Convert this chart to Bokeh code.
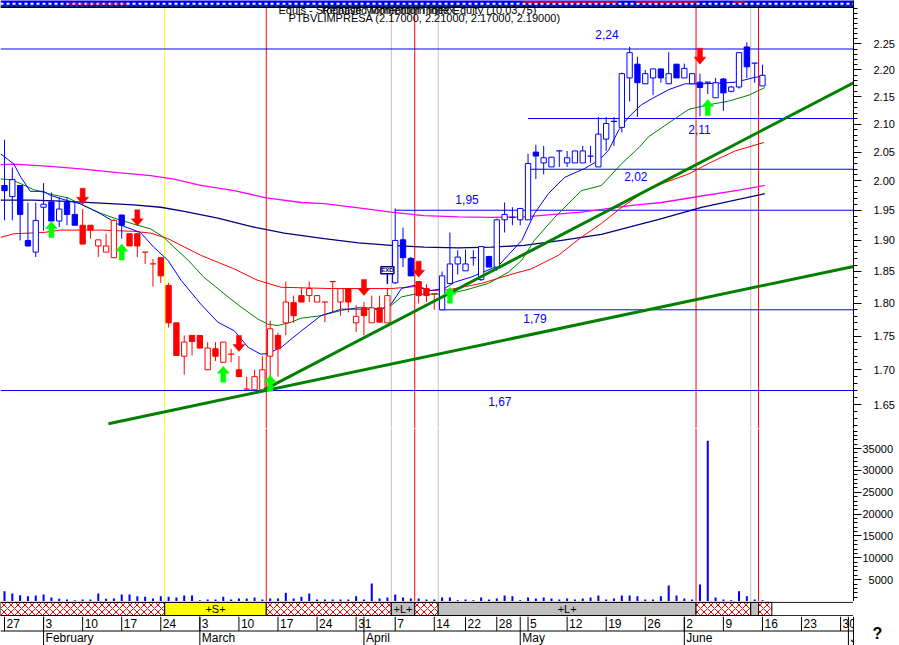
import math
from bokeh.plotting import figure
from bokeh.layouts import column
from bokeh.models import Range1d, Span, FixedTicker, PrintfTickFormatter, CustomJSTickFormatter
from bokeh.embed import file_html
from bokeh.resources import INLINE
from bokeh.core.properties import value

# ------------------------------------------------------------------ data
# trading-day index 0 = 27 Jan 2003 ... 97 = 16 Jun 2003
open_ = [1.992, 1.973, 1.992, 1.900, 1.881, 1.955, 1.964, 1.932, 1.963, 1.943,
         1.925, 1.925, 1.891, 1.881, 1.872, 1.942, 1.911, 1.911, 1.881, 1.862,
         1.872, 1.828, 1.770, 1.720, 1.751, 1.751, 1.700, 1.731, 1.711, 1.723,
         1.700, 1.672, 1.671, 1.671, 1.720, 1.751, 1.770, 1.801, 1.812, 1.812,
         1.802, 1.802, 1.834, 1.802, 1.823, 1.770, 1.793, 1.770, 1.793, 1.770,
         1.832, 1.901, 1.871, 1.834, 1.823, 1.815, 1.790, 1.831, 1.862, 1.851,
         1.872, 1.837, 1.874, 1.857, 1.934, 1.938, 1.934, 1.934, 2.050, 2.031,
         2.024, 2.052, 2.031, 2.031, 2.031, 2.043, 2.024, 2.073, 2.105, 2.094,
         2.185, 2.211, 2.174, 2.185, 2.202, 2.174, 2.211, 2.185, 2.174, 2.177,
         2.177, 2.148, 2.183, 2.160, 2.168, 2.244, 2.213, 2.170]
high = [2.072, 2.023, 1.992, 1.963, 1.963, 1.996, 1.980, 1.972, 1.972, 1.963,
        1.952, 1.925, 1.901, 1.911, 1.935, 1.942, 1.911, 1.911, 1.881, 1.870,
        1.872, 1.832, 1.770, 1.751, 1.751, 1.751, 1.741, 1.741, 1.741, 1.731,
        1.720, 1.690, 1.700, 1.720, 1.773, 1.755, 1.834, 1.812, 1.825, 1.834,
        1.812, 1.802, 1.834, 1.823, 1.823, 1.797, 1.802, 1.812, 1.812, 1.823,
        1.953, 1.921, 1.873, 1.834, 1.830, 1.815, 1.850, 1.913, 1.884, 1.885,
        1.884, 1.890, 1.875, 1.936, 1.963, 1.955, 1.953, 2.047, 2.063, 2.061,
        2.041, 2.052, 2.052, 2.052, 2.061, 2.061, 2.113, 2.113, 2.113, 2.195,
        2.244, 2.225, 2.200, 2.202, 2.202, 2.234, 2.211, 2.212, 2.193, 2.193,
        2.177, 2.185, 2.185, 2.170, 2.233, 2.253, 2.213, 2.210]
low = [1.933, 1.933, 1.900, 1.890, 1.873, 1.916, 1.932, 1.922, 1.925, 1.925,
       1.894, 1.903, 1.873, 1.881, 1.872, 1.903, 1.891, 1.873, 1.862, 1.826,
       1.832, 1.763, 1.721, 1.693, 1.721, 1.732, 1.700, 1.713, 1.711, 1.711,
       1.690, 1.672, 1.671, 1.671, 1.671, 1.690, 1.751, 1.770, 1.802, 1.802,
       1.802, 1.771, 1.786, 1.781, 1.786, 1.756, 1.751, 1.770, 1.771, 1.770,
       1.830, 1.857, 1.843, 1.800, 1.802, 1.790, 1.790, 1.830, 1.845, 1.851,
       1.859, 1.835, 1.857, 1.851, 1.913, 1.925, 1.925, 1.934, 2.003, 2.011,
       2.024, 2.024, 2.024, 2.031, 2.031, 2.031, 2.024, 2.052, 2.061, 2.085,
       2.141, 2.113, 2.174, 2.153, 2.176, 2.174, 2.185, 2.185, 2.174, 2.114,
       2.155, 2.148, 2.124, 2.158, 2.165, 2.185, 2.176, 2.170]
close = [1.983, 2.002, 1.943, 1.891, 1.933, 1.960, 1.932, 1.952, 1.943, 1.925,
         1.894, 1.917, 1.901, 1.891, 1.933, 1.925, 1.891, 1.891, 1.881, 1.862,
         1.843, 1.770, 1.721, 1.741, 1.742, 1.732, 1.732, 1.720, 1.741, 1.723,
         1.690, 1.672, 1.690, 1.700, 1.761, 1.731, 1.802, 1.781, 1.802, 1.823,
         1.812, 1.802, 1.834, 1.823, 1.802, 1.780, 1.781, 1.793, 1.771, 1.812,
         1.900, 1.872, 1.843, 1.812, 1.812, 1.815, 1.843, 1.862, 1.873, 1.862,
         1.872, 1.890, 1.857, 1.934, 1.943, 1.938, 1.953, 2.030, 2.043, 2.040,
         2.041, 2.052, 2.040, 2.052, 2.052, 2.043, 2.082, 2.101, 2.105, 2.193,
         2.233, 2.176, 2.193, 2.202, 2.185, 2.193, 2.185, 2.203, 2.193, 2.167,
         2.177, 2.176, 2.157, 2.168, 2.233, 2.206, 2.213, 2.190]
# candle colour regime: B = blue, R = red
regime = ("BBBBBBBBBB" "RRRRR" "B" + "R" * 34 + "BBB" "RRR" + "B" * 42)
volume = [2360, 1830, 1440, 1210, 1370, 1600, 920, 620, 460, 300,
          460, 460, 1830, 620, 690, 1600, 1600, 1210, 1080, 690,
          1210, 1080, 920, 1370, 1370, 300, 460, 460, 1080, 460,
          690, 690, 920, 460, 690, 690, 1990, 690, 1080, 1830,
          460, 460, 460, 460, 460, 1210, 460, 4120, 690, 920,
          1600, 920, 690, 690, 460, 460, 920, 920, 300, 460,
          300, 920, 460, 690, 1370, 1210, 300, 920, 690, 920,
          690, 460, 690, 460, 690, 920, 1370, 460, 690, 1370,
          1370, 1210, 460, 460, 1210, 3660, 1370, 690, 460, 3890,
          36800, 920, 460, 300, 2360, 1210, 460, 300]

# moving averages (read at sample days)
fast_x = [-0.5, 1.2, 2.1, 3.3, 5.0, 5.9, 8.1, 9.7, 12.3, 14.5, 17.4, 19.1, 20.9, 22.6, 25.1,
          27.3, 29.4, 31.2, 32.8, 33.7, 35.4, 37.9, 40.5, 43.1, 46.0, 48.2, 49.5, 50.8, 52.4,
          54.6, 56.3, 57.6, 59.7, 63.2, 66.2, 67.8, 69.6, 71.7, 74.2, 76.0, 77.3, 78.6, 79.9,
          81.5, 82.8, 85.0, 87.1, 89.2, 91.4, 93.5, 94.4, 96.0, 97.3]
fast_y = [2.047, 2.029, 2.006, 1.982, 1.982, 1.975, 1.966, 1.961, 1.944, 1.927, 1.913, 1.889,
          1.868, 1.836, 1.799, 1.771, 1.758, 1.733, 1.723, 1.724, 1.733, 1.757, 1.781, 1.791,
          1.791, 1.791, 1.799, 1.823, 1.828, 1.820, 1.823, 1.833, 1.841, 1.859, 1.900, 1.944,
          1.978, 2.006, 2.021, 2.035, 2.053, 2.089, 2.113, 2.135, 2.146, 2.163, 2.174, 2.174,
          2.175, 2.177, 2.180, 2.186, 2.189]
med_x = [-0.5, 0.8, 2.1, 3.7, 5.9, 8.1, 10.1, 12.3, 14.0, 16.5, 18.7, 20.4, 21.7, 23.5, 25.5,
         28.6, 30.3, 32.4, 33.7, 35.0, 36.7, 37.9, 40.5, 43.1, 45.6, 48.2, 49.5, 50.8, 52.4,
         54.6, 56.8, 58.8, 61.9, 64.5, 66.2, 67.8, 70.4, 73.8, 76.4, 79.0, 81.2, 82.4, 85.0,
         87.6, 90.1, 92.7, 95.3, 97.3]
med_y = [2.003, 2.002, 1.995, 1.985, 1.977, 1.971, 1.958, 1.945, 1.937, 1.927, 1.919, 1.905,
         1.889, 1.868, 1.841, 1.810, 1.794, 1.776, 1.768, 1.766, 1.771, 1.777, 1.781, 1.789,
         1.794, 1.791, 1.797, 1.810, 1.814, 1.814, 1.815, 1.820, 1.831, 1.849, 1.868, 1.900,
         1.938, 1.983, 1.992, 2.030, 2.058, 2.077, 2.102, 2.127, 2.135, 2.142, 2.153, 2.167]
slow_x = [-0.5, 1.2, 5.0, 7.2, 12.3, 16.5, 18.7, 20.9, 25.1, 29.4, 32.4, 35.4, 41.8, 49.5, 52.4,
          54.6, 56.8, 61.0, 65.3, 67.4, 70.9, 73.8, 76.4, 79.0, 81.5, 84.1, 87.6, 90.1, 93.5, 97.2]
slow_y = [1.905, 1.911, 1.913, 1.917, 1.917, 1.915, 1.912, 1.903, 1.876, 1.854, 1.836, 1.825,
          1.823, 1.823, 1.826, 1.820, 1.821, 1.831, 1.847, 1.854, 1.876, 1.905, 1.928, 1.955,
          1.978, 1.995, 2.012, 2.030, 2.052, 2.067]
mag_x = [-0.5, 1.2, 5.9, 10.1, 14.5, 18.7, 21.7, 25.1, 29.4, 33.5, 38.0, 40.9, 45.3, 49.5, 53.7,
         58.1, 62.3, 66.5, 73.8, 80.3, 84.1, 89.2, 94.0, 97.3]
mag_y = [2.028, 2.029, 2.025, 2.020, 2.014, 2.009, 2.003, 1.992, 1.983, 1.971, 1.963, 1.961,
         1.954, 1.947, 1.941, 1.939, 1.938, 1.939, 1.947, 1.958, 1.963, 1.974, 1.984, 1.992]
navy_x = [-0.5, 3.7, 8.1, 12.3, 16.5, 20.0, 23.0, 27.3, 31.5, 35.8, 40.9, 45.3, 49.5, 53.7, 58.1,
          62.3, 66.5, 71.3, 76.4, 84.1, 89.2, 97.3]
navy_y = [1.967, 1.967, 1.965, 1.962, 1.959, 1.955, 1.948, 1.937, 1.923, 1.912, 1.903, 1.896,
          1.892, 1.889, 1.888, 1.889, 1.892, 1.900, 1.910, 1.936, 1.955, 1.978]

# trend lines (start day, start price, end day, end price)
trend_x0 = [33.2, 13.3]
trend_y0 = [1.671, 1.623]
trend_x1 = [108.65, 108.65]
trend_y1 = [2.176, 1.858]

# horizontal support / resistance levels
levels = [2.24, 2.11, 2.02, 1.95, 1.79, 1.67]
level_start = [-0.52, 67.0, 67.0, 50.0, 55.7, -0.52]
level_text = ["2,24", "2,11", "2,02", "1,95", "1,79", "1,67"]
level_lab_x = [75.6, 87.5, 79.3, 57.7, 66.4, 61.9]
level_lab_y = [2.269, 2.090, 2.008, 1.968, 1.777, 1.654]

# signal arrows (day, tip price)
sell_day = [10, 17, 30, 46, 53, 89]
sell_tip = [1.960, 1.924, 1.727, 1.812, 1.841, 2.211]
buy_day = [6, 15, 28, 34, 57, 90]
buy_tip = [1.931, 1.894, 1.705, 1.692, 1.825, 2.145]

# event lines (day boundary, kind)
event_x = [20.5, 33.5, 49.5, 52.5, 55.5, 88.5, 95.5, 96.5]
event_kind = ["S", "X", "L", "X", "L", "X", "L", "X"]

# system state band
band_x0 = [-0.51, 20.5, 33.5, 49.5, 52.5, 55.5, 88.5, 95.5, 96.5]
band_x1 = [20.5, 33.5, 49.5, 52.5, 55.5, 88.5, 95.5, 96.5, 98.2]
band_state = ["X", "S", "X", "L", "X", "L", "X", "L", "X"]
band_text = ["", "+S+", "", "+L+", "", "+L+", "", "", ""]

# indicator strip signals (day ranges)
strip_red_x0 = [66.3, 80.8, 93.3]
strip_red_x1 = [78.5, 88.7, 94.8]
strip_alt_x0 = [8.2]
strip_alt_x1 = [15.8]

# date axis
week_day = [0, 5, 10, 15, 20, 25, 30, 35, 40, 45, 50, 55, 59, 63, 67, 72, 77, 82, 87, 92, 97, 102, 107]
week_lab = ["27", "3", "10", "17", "24", "3", "10", "17", "24", "31", "7", "14", "22", "28",
            "5", "12", "19", "26", "2", "9", "16", "23", "30"]
month_day = [5, 25, 46, 66, 87, 108]
month_lab = ["February", "March", "April", "May", "June", "July"]

price_ticks = [1.65, 1.70, 1.75, 1.80, 1.85, 1.90, 1.95, 2.00, 2.05, 2.10, 2.15, 2.20, 2.25]
vol_ticks = [5000, 10000, 15000, 20000, 25000, 30000, 35000]

title_1 = "Equis - Stochastic Momentum Index"
title_1b = "Relative Momentum Index Equity (10,03,75)"
title_2 = "PTBVLIMPRESA (2.17000, 2.21000, 2.17000, 2.19000)"

# ------------------------------------------------------------------ layout
FONT = "Liberation Sans"
BLUE, RED, GREEN, LIME = "#0000ff", "#ff0000", "#008000", "#00ff00"
NAVY, MAG, GRAY, YEL = "#000080", "#ff00ff", "#c0c0c0", "#ffff00"
KIND_COL = {"S": YEL, "X": RED, "L": GRAY}

FW = 853
X0, X1 = -0.512, 108.65
PXD = FW / (X1 - X0)
P_LO, P_HI = 1.6163, 2.3214
HS, HP, HV, HB, HD = 7, 421, 173, 15, 29
K = HP / math.log(P_HI / P_LO)          # pixels per log-unit of price
P_TOP = P_HI * math.exp(HS / K)          # strip sits on top of the price panel


def ypx(py):
    """price at a pixel row measured from the top of the price figure"""
    return P_TOP * math.exp(-py / K)


xr = Range1d(X0, X1)


def make_fig(fh, yr, x_range=xr, fw=FW, **kw):
    f = figure(frame_width=fw, frame_height=fh, x_range=x_range, y_range=yr,
               toolbar_location=None, output_backend="svg", min_border=0,
               x_axis_location=None, **kw)
    f.outline_line_color = None
    f.background_fill_color = "white"
    f.border_fill_color = "white"
    for g in f.grid:
        g.visible = False
    return f


def style_axis(ax, standoff):
    ax.axis_line_color = "black"
    ax.major_tick_line_color = "black"
    ax.minor_tick_line_color = "black"
    ax.major_tick_out = 8
    ax.major_tick_in = 0
    ax.minor_tick_out = 4
    ax.minor_tick_in = 0
    ax.major_label_standoff = standoff
    ax.major_label_text_font = FONT
    ax.major_label_text_font_size = "11px"
    ax.major_label_text_color = "black"


# ---- price panel (with indicator strip on top)
p = make_fig(HS + HP, Range1d(P_LO, P_TOP), y_axis_location="right", y_axis_type="log")
pax = p.yaxis[0]
pax.ticker = FixedTicker(ticks=price_ticks,
                         minor_ticks=[round(1.62 + 0.01 * k, 2) for k in range(71)])
pax.formatter = PrintfTickFormatter(format="%.2f")
style_axis(pax, 12)

# strip
p.quad(left=[X0], right=[X1], bottom=[ypx(7)], top=[P_TOP * 1.01], fill_color=BLUE, line_color=None)
p.segment(x0=[X0], y0=[ypx(3.3)], x1=[X1], y1=[ypx(3.3)], line_color="white", line_width=2, line_dash="3 3")
p.segment(x0=strip_alt_x0, y0=[ypx(3.3)], x1=strip_alt_x1, y1=[ypx(3.3)], line_color=RED,
          line_width=2, line_dash="3 3")
p.segment(x0=[X0], y0=[ypx(5.4)], x1=[X1], y1=[ypx(5.4)], line_color=GREEN, line_width=1.5, line_dash="2 3")
p.segment(x0=strip_red_x0, y0=[ypx(1.6)] * 3, x1=strip_red_x1, y1=[ypx(1.6)] * 3,
          line_color=RED, line_width=1.5)
p.segment(x0=[X0], y0=[ypx(6.8)], x1=[X1], y1=[ypx(6.8)], line_color="black", line_width=1.2)

# levels
p.segment(x0=level_start, y0=levels, x1=[X1] * len(levels), y1=levels, line_color=BLUE, line_width=1)
p.text(x=level_lab_x, y=level_lab_y, text=level_text, text_color=BLUE,
       text_font=value(FONT), text_font_size="12px", text_baseline="middle", text_align="left")

# moving averages
p.line(navy_x, navy_y, line_color=NAVY, line_width=1.3)
p.line(mag_x, mag_y, line_color=MAG, line_width=1.3)
p.line(slow_x, slow_y, line_color=RED, line_width=1)
p.line(med_x, med_y, line_color=GREEN, line_width=1)
p.line(fast_x, fast_y, line_color=BLUE, line_width=1)

# candles
days = list(range(len(close)))
cols = [BLUE if r == "B" else RED for r in regime]
p.segment(x0=days, y0=low, x1=days, y1=high, line_color=cols, line_width=1)
bx, bt, bb, bf, bc = [], [], [], [], []
dx, dy, dc = [], [], []
for i in days:
    o, c = open_[i], close[i]
    if abs(o - c) < 1e-9:
        dx.append(i); dy.append(o); dc.append(cols[i])
    else:
        bx.append(i); bt.append(max(o, c)); bb.append(min(o, c))
        bf.append(cols[i] if c < o else "white"); bc.append(cols[i])
p.vbar(x=bx, width=0.68, top=bt, bottom=bb, fill_color=bf, line_color=bc, line_width=1)
p.segment(x0=[d - 0.38 for d in dx], y0=dy, x1=[d + 0.38 for d in dx], y1=dy,
          line_color=dc, line_width=1.2)

# trend lines
p.segment(x0=trend_x0, y0=trend_y0, x1=trend_x1, y1=trend_y1, line_color=GREEN, line_width=3)


# arrows
def arrow(day, tip, down):
    sgn = 1 if down else -1
    shape = [(-2.5, 16), (2.5, 16), (2.5, 7), (6, 7), (0, 0), (-6, 7), (-2.5, 7)]
    xs = [day + a / PXD for a, b in shape]
    ys = [tip * math.exp(sgn * b / K) for a, b in shape]
    return xs, ys


sx, sy = zip(*[arrow(d, t, True) for d, t in zip(sell_day, sell_tip)])
p.patches(list(sx), list(sy), fill_color=RED, line_color=RED, line_width=0.5)
gx, gy = zip(*[arrow(d, t, False) for d, t in zip(buy_day, buy_tip)])
p.patches(list(gx), list(gy), fill_color=LIME, line_color=LIME, line_width=0.5)

# EXD marker on day 49
p.segment(x0=[49], y0=[1.830], x1=[49], y1=[1.846], line_color=NAVY, line_width=1.5)
p.rect(x=[49], y=[1.852], width=13, height=7, width_units="screen", height_units="screen",
       fill_color="white", line_color=NAVY, line_width=1.5)
p.text(x=[49], y=[1.852], text=["EXD"], text_color=NAVY, text_font=value(FONT),
       text_font_size="6px", text_align="center", text_baseline="middle", text_font_style="bold")

# title
p.text(x=[35.06], y=[ypx(3)], text=[title_1], text_color="black",
       text_font=value(FONT), text_font_size="11px", text_baseline="top", text_align="left")
p.text(x=[40.6], y=[ypx(3)], text=[title_1b], text_color="black",
       text_font=value(FONT), text_font_size="11px", text_baseline="top", text_align="left")
p.text(x=[36.35], y=[ypx(11)], text=[title_2], text_color="black",
       text_font=value(FONT), text_font_size="11px", text_baseline="top", text_align="left")

# ---- volume panel
v = make_fig(HV, Range1d(0, 39600), y_axis_location="right")
vax = v.yaxis[0]
vax.ticker = FixedTicker(ticks=vol_ticks, minor_ticks=list(range(0, 39001, 1000)))
vax.formatter = CustomJSTickFormatter(code="return (tick < 10000 ? '\\u2007' : '') + tick.toFixed(0);")
style_axis(vax, 1)
v.vbar(x=days, top=volume, width=0.26, fill_color=BLUE, line_color=None)

for f in (p, v):
    for loc, k in zip(event_x, event_kind):
        f.add_layout(Span(location=loc, dimension="height", line_color=KIND_COL[k],
                          line_width=1, level="underlay"))

# ---- state band
b = make_fig(HB, Range1d(-0.06, 1.06), y_axis_location=None)
for x0_, x1_, st in zip(band_x0, band_x1, band_state):
    if st == "X":
        b.quad(left=[x0_], right=[x1_], bottom=[0], top=[1], fill_color="white",
               hatch_pattern="diagonal_cross", hatch_color=RED, hatch_scale=7,
               hatch_weight=1, line_color="black", line_width=1)
    else:
        b.quad(left=[x0_], right=[x1_], bottom=[0], top=[1], fill_color=KIND_COL[st],
               line_color="black", line_width=1)
b.segment(x0=[X0, X0], y0=[0, 1], x1=[X1, X1], y1=[0, 1], line_color="black", line_width=1)
tx = [(a + c) / 2 for a, c, t in zip(band_x0, band_x1, band_text) if t]
tt = [t for t in band_text if t]
b.text(x=tx, y=[0.5] * len(tt), text=tt, text_font=value(FONT), text_font_size="11px",
       text_align="center", text_baseline="middle", text_color="black")

# ---- date axis
DW = 899
XD1 = X0 + DW / PXD
d = make_fig(HD, Range1d(0, 2), x_range=Range1d(X0, XD1), fw=DW, y_axis_location=None)
d.segment(x0=[X0], y0=[1.0], x1=[X1], y1=[1.0], line_color="black", line_width=1)
d.segment(x0=week_day, y0=[1.0] * len(week_day), x1=week_day, y1=[2.0] * len(week_day),
          line_color="black", line_width=1)
d.segment(x0=month_day, y0=[0.0] * len(month_day), x1=month_day, y1=[2.0] * len(month_day),
          line_color="black", line_width=1)
d.text(x=week_day, y=[1.5] * len(week_day), text=week_lab, x_offset=2,
       text_font=value(FONT), text_font_size="12px", text_baseline="middle", text_color="black")
d.text(x=month_day, y=[0.5] * len(month_day), text=month_lab, x_offset=2,
       text_font=value(FONT), text_font_size="12px", text_baseline="middle", text_color="black")
d.quad(left=[X1], right=[XD1], bottom=[0], top=[2], fill_color="white", line_color=None)
d.segment(x0=[X1], y0=[0], x1=[X1], y1=[2], line_color="black", line_width=1)
d.text(x=[X0 + 877 / PXD], y=[0.85], text=["?"], text_font=value(FONT),
       text_font_size="16px", text_font_style="bold", text_align="center",
       text_baseline="middle", text_color="black")

layout = column(p, v, b, d, spacing=0)
open("out.html", "w").write(file_html(layout, INLINE))
